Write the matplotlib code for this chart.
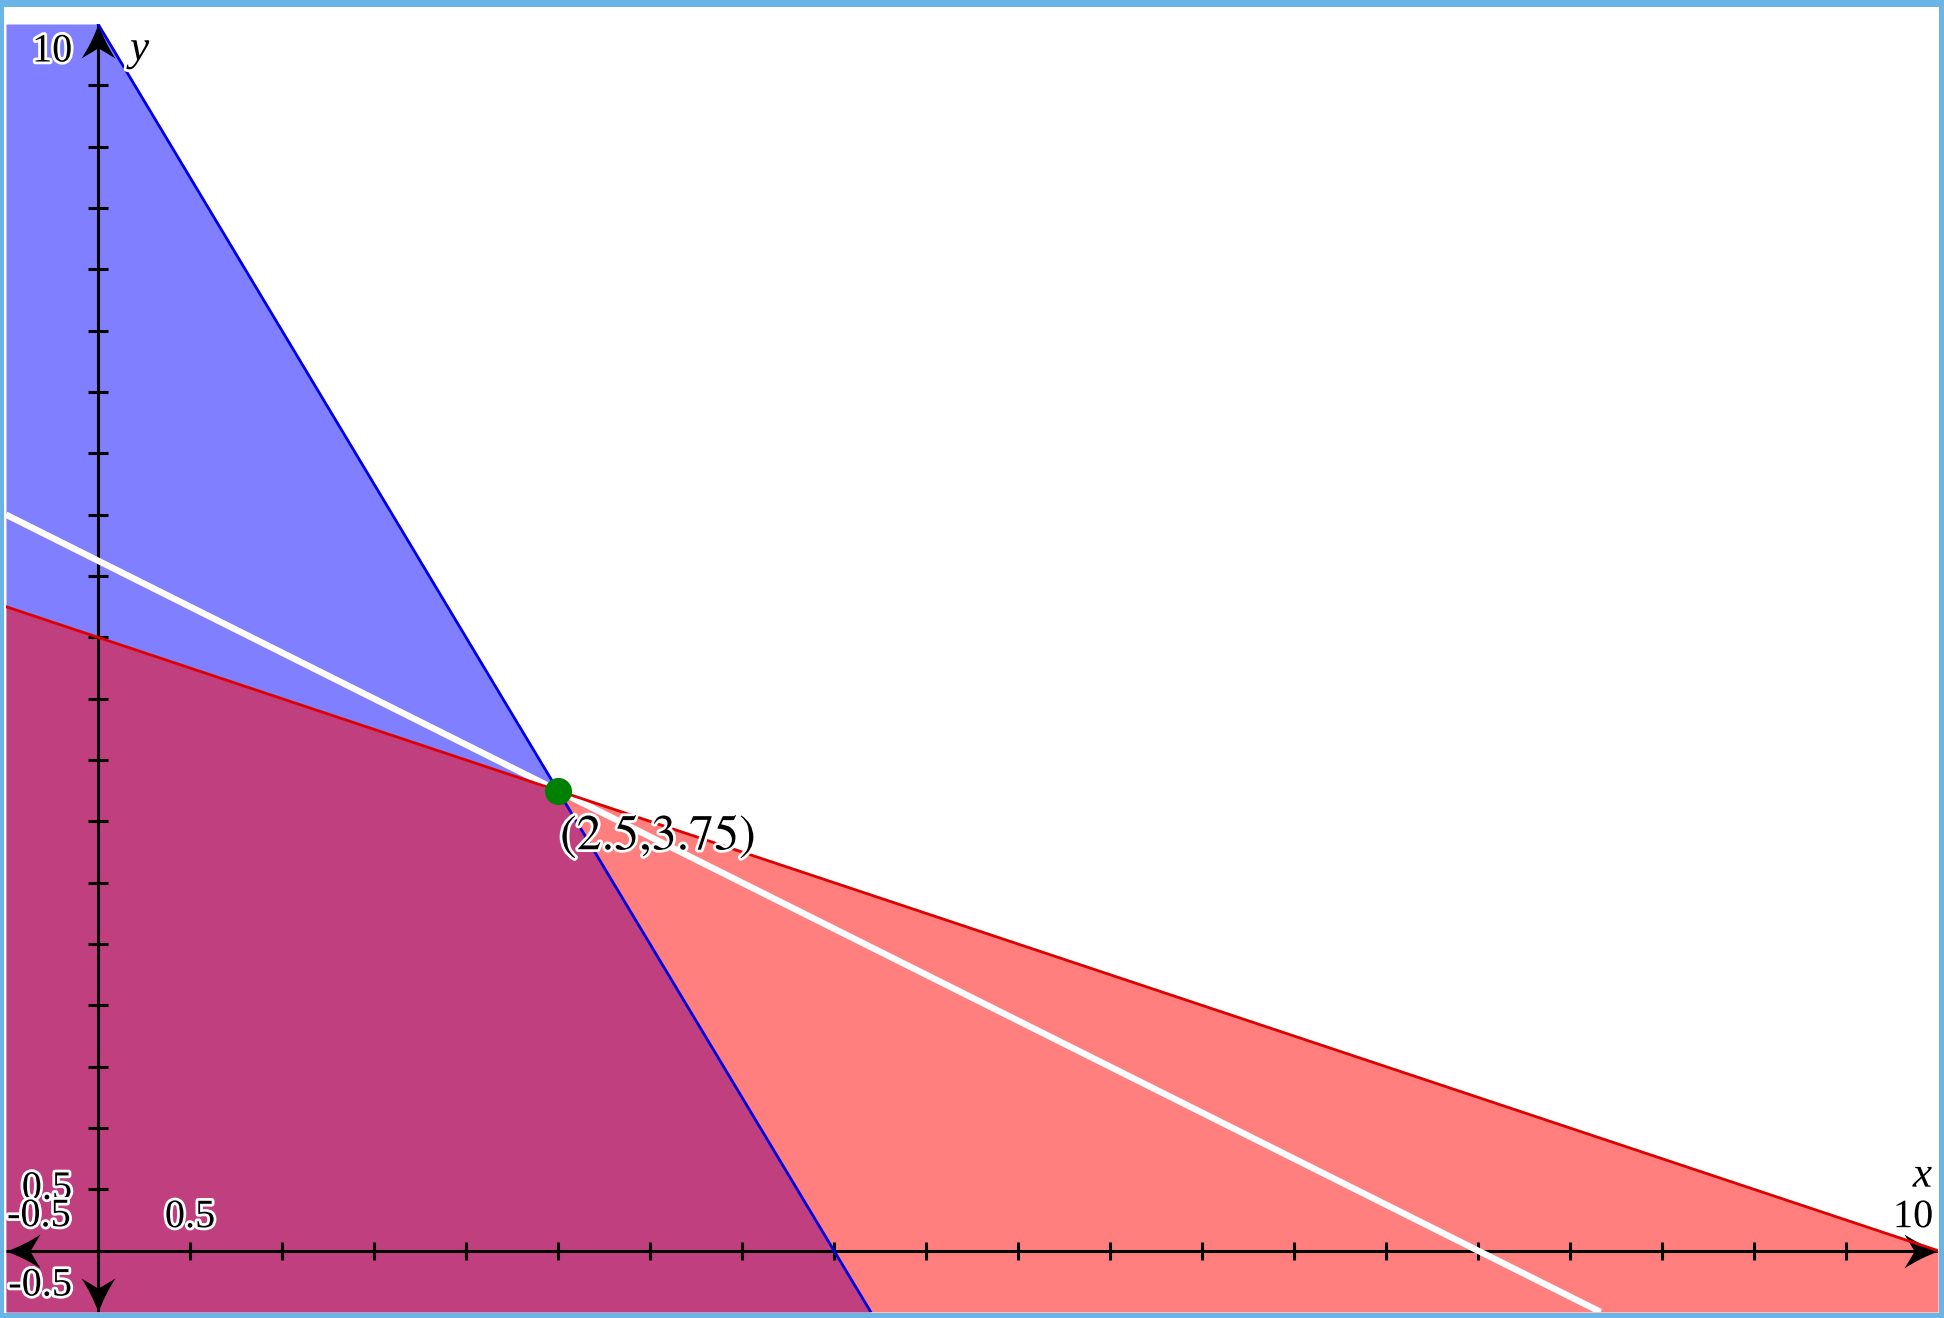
import numpy as np
import matplotlib
matplotlib.use("Agg")
import matplotlib.pyplot as plt
from matplotlib.path import Path
from matplotlib.patches import Rectangle
import matplotlib.patheffects as pe

plt.rcParams["mathtext.fontset"] = "stix"

# ---- data ----
x_range = [-0.5, 10.0]
y_range = [-0.5, 10.0]
x_ticks = [0.5, 1.0, 1.5, 2.0, 2.5, 3.0, 3.5, 4.0, 4.5, 5.0,
           5.5, 6.0, 6.5, 7.0, 7.5, 8.0, 8.5, 9.0, 9.5]
y_ticks = [0.5, 1.0, 1.5, 2.0, 2.5, 3.0, 3.5, 4.0, 4.5, 5.0,
           5.5, 6.0, 6.5, 7.0, 7.5, 8.0, 8.5, 9.0, 9.5]

# blue constraint region (y <= 10 - 2.5x), clipped at y=10
blue_fill_x = [-0.5, 0.0, 4.2]
blue_fill_y = [10.0, 10.0, -0.5]
blue_line_x = [0.0, 4.2]
blue_line_y = [10.0, -0.5]

# red constraint (y <= 5 - 0.5x)
red_x = [-0.5, 10.0]
red_y = [5.25, 0.0]

# white objective line
white_x = [-0.5, 8.1667]
white_y = [6.0, -0.5]

# optimum point
pt_x = 2.5
pt_y = 3.75
pt_label = r"$\left(2.5{,}3.75\right)$"

# ---- figure ----
W, H, DPI = 1944, 1318, 100
fig = plt.figure(figsize=(W / DPI, H / DPI), dpi=DPI, facecolor="#6ab4e6")
bg = Rectangle((4 / W, 5 / H), 1935 / W, 1306 / H,
               transform=fig.transFigure, facecolor="white",
               edgecolor="none", zorder=-10)
fig.patches.append(bg)
ax = fig.add_axes([6 / W, 6 / H, 1932 / W, 1288 / H])
ax.set_zorder(5)
ax.set_xlim(*x_range)
ax.set_ylim(*y_range)
ax.axis("off")
ax.patch.set_alpha(0)

# fills
ax.fill_between(blue_fill_x, blue_fill_y, y_range[0], color=(0, 0, 1), alpha=0.5,
                linewidth=0, zorder=1)
ax.fill_between(red_x, red_y, y_range[0], color=(1, 0, 0), alpha=0.5,
                linewidth=0, zorder=2)

# axes lines
axis_lw = 2.2
ax.plot(x_range, [0, 0], color="black", lw=axis_lw, zorder=3, solid_capstyle="butt")
ax.plot([0, 0], y_range, color="black", lw=axis_lw, zorder=3, solid_capstyle="butt")
ax.plot(x_ticks, [0] * len(x_ticks), ls="none", marker="|", markersize=13.5,
        markeredgewidth=axis_lw, color="black", zorder=3)
ax.plot([0] * len(y_ticks), y_ticks, ls="none", marker="_", markersize=14.5,
        markeredgewidth=axis_lw, color="black", zorder=3)


# arrowheads
def arrow_path(angle_deg):
    verts = np.array([(0, 0), (-0.55, 0.2), (-1, 0.5), (-0.7, 0),
                      (-1, -0.5), (-0.55, -0.2), (0, 0), (0, 0)], float)
    codes = [Path.MOVETO, Path.CURVE3, Path.CURVE3, Path.LINETO,
             Path.LINETO, Path.CURVE3, Path.CURVE3, Path.CLOSEPOLY]
    a = np.deg2rad(angle_deg)
    R = np.array([[np.cos(a), -np.sin(a)], [np.sin(a), np.cos(a)]])
    return Path(verts @ R.T, codes)


ms = 49
for (x, y, ang) in [(x_range[1], 0, 0), (x_range[0], 0, 180),
                    (0, y_range[1], 90), (0, y_range[0], 270)]:
    ax.plot([x], [y], marker=arrow_path(ang), markersize=ms, color="black",
            markeredgewidth=0, ls="none", zorder=4, clip_on=False)

# curves
ax.plot(white_x, white_y, color="white", lw=4.6, zorder=5, solid_capstyle="butt")
ax.plot(blue_line_x, blue_line_y, color="#0000e0", lw=2.0, zorder=6)
ax.plot(red_x, red_y, color="#e00000", lw=2.0, zorder=6)

ax.plot([pt_x], [pt_y], marker="o", markersize=19.5, color="#008000",
        markeredgewidth=0, zorder=7)

# text
halo = [pe.withStroke(linewidth=4, foreground="white")]
fam = ["Liberation Serif", "DejaVu Serif"]
tfs = 29


def lab(text, xy, off, ha, va, size=tfs, style="normal"):
    ax.annotate(text, xy=xy, xytext=off, textcoords="offset pixels",
                ha=ha, va=va, fontsize=size, family=fam, style=style,
                color="black", path_effects=halo, zorder=8,
                annotation_clip=False)


lab("0.5", (0, 0.5), (-26, 0), "right", "center")
lab("10", (0, y_range[1]), (-26, -28), "right", "center")
lab("-0.5", (0, y_range[0]), (-26, 26), "right", "center")
lab("-0.5", (x_range[0], 0), (1, 34), "left", "center")
lab("0.5", (0.5, 0), (0, 33), "center", "center")
lab("10", (x_range[1], 0), (-5, 33), "right", "center")
lab("x", (x_range[1], 0), (-6, 64), "right", "baseline", size=31, style="italic")
lab("y", (0, y_range[1]), (32, -36), "left", "baseline", size=31, style="italic")
lab(pt_label, (pt_x, pt_y), (2, -22), "left", "top", size=36)

fig.savefig("out.png", dpi=DPI, facecolor=fig.get_facecolor())
